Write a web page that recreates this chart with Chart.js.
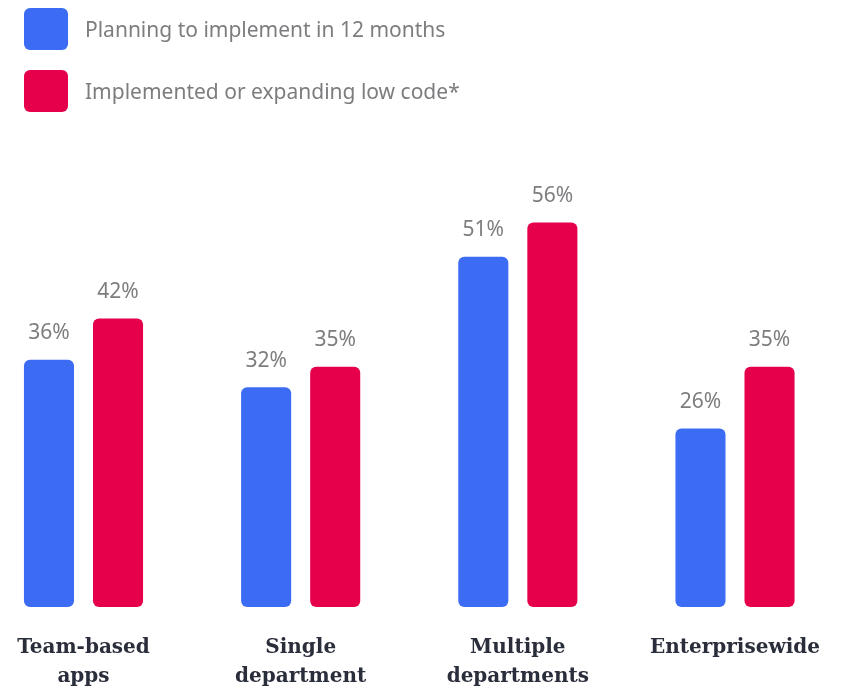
<!DOCTYPE html>
<html>
<head>
<meta charset="utf-8">
<script src="https://cdn.jsdelivr.net/npm/chart.js@4"></script>
<style>
  html, body { margin: 0; padding: 0; background: #fff; }
  #wrap { position: relative; width: 841px; height: 688px; }
  #chart { position: absolute; left: 0; top: 0; }
  #legend { position: absolute; left: 24px; top: 8px; font-family: "Noto Sans", sans-serif; font-size: 21px; color: #7d7d80; }
  .item { display: flex; align-items: center; height: 42px; margin-bottom: 20px; }
  .box { width: 44px; height: 42px; border-radius: 6px; margin-right: 17px; }
</style>
</head>
<body>
<div id="wrap">
  <canvas id="chart" width="841" height="688"></canvas>
  <div id="legend"></div>
</div>
<script>
const categories = [['Team-based', 'apps'], ['Single', 'department'], ['Multiple', 'departments'], ['Enterprisewide']];
const seriesNames = ['Planning to implement in 12 months', 'Implemented or expanding low code*'];
const planning = [36, 32, 51, 26];
const implemented = [42, 35, 56, 35];
const colors = ['#3d6cf4', '#e6004c'];

// legend as html, from the dataset names
const legendEl = document.getElementById('legend');
seriesNames.forEach((name, i) => {
    const item = document.createElement('div');
    item.className = 'item';
    item.innerHTML = '<div class="box" style="background:' + colors[i] + '"></div><span>' + name + '</span>';
    legendEl.appendChild(item);
});

const valueLabels = {
    id: 'valueLabels',
    afterDatasetsDraw(chart) {
        const ctx = chart.ctx;
        ctx.save();
        ctx.font = '21px "Noto Sans", sans-serif';
        ctx.fillStyle = '#7d7d80';
        ctx.textAlign = 'center';
        ctx.textBaseline = 'bottom';
        chart.data.datasets.forEach((ds, i) => {
            chart.getDatasetMeta(i).data.forEach((bar, j) => {
                ctx.fillText(ds.data[j] + '%', bar.x, bar.y - 16);
            });
        });
        ctx.restore();
    }
};

new Chart(document.getElementById('chart').getContext('2d'), {
    type: 'bar',
    data: {
        labels: categories,
        datasets: seriesNames.map((name, i) => ({
            label: name,
            data: i === 0 ? planning : implemented,
            backgroundColor: colors[i],
            borderRadius: 6,
            borderSkipped: false,
            categoryPercentage: 0.636,
            barPercentage: 0.725,
            clip: false
        }))
    },
    options: {
        responsive: false,
        animation: false,
        layout: { padding: { left: 83.5, right: 106, top: 195, bottom: 0 } },
        plugins: { legend: { display: false }, tooltip: { enabled: false } },
        scales: {
            x: {
                offset: false,
                grid: { display: false, drawTicks: true, tickLength: 26, color: 'rgba(0,0,0,0)' },
                border: { display: false },
                afterFit: (scale) => { scale.height = 81; },
                ticks: {
                    autoSkip: false,
                    maxRotation: 0,
                    padding: 0,
                    color: '#2a2d3a',
                    font: { family: '"DejaVu Serif", serif', weight: 'bold', size: 20, lineHeight: 1.45 }
                }
            },
            y: {
                display: false,
                min: 0,
                max: 60
            }
        }
    },
    plugins: [valueLabels]
});
</script>
</body>
</html>
